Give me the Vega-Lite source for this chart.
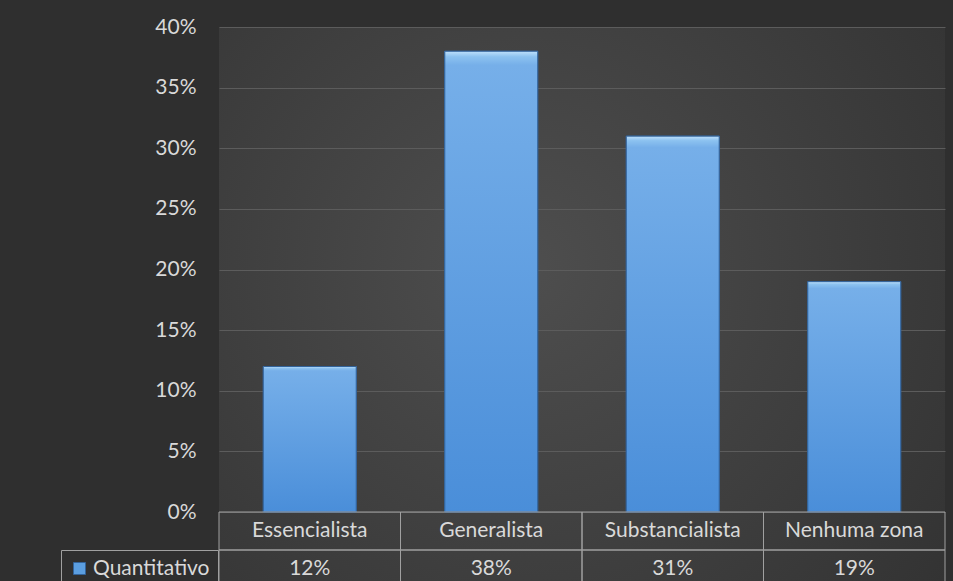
{
  "$schema": "https://vega.github.io/schema/vega-lite/v6.json",
  "width": 726,
  "height": 554,
  "autosize": "none",
  "padding": {"left": 219, "top": 27, "right": 8, "bottom": 0},
  "background": "#2f2f2f",
  "config": {
    "font": "Lato",
    "view": {
      "stroke": null,
      "fill": {
        "gradient": "radial",
        "x1": 0.42, "y1": 0.45, "r1": 0,
        "x2": 0.42, "y2": 0.45, "r2": 0.75,
        "stops": [
          {"offset": 0, "color": "#4e4e4e"},
          {"offset": 1, "color": "#323232"}
        ]
      }
    }
  },
  "data": {
    "values": [
      {"categoria": "Essencialista", "valor": 0.12},
      {"categoria": "Generalista", "valor": 0.38},
      {"categoria": "Substancialista", "valor": 0.31},
      {"categoria": "Nenhuma zona", "valor": 0.19}
    ]
  },
  "encoding": {
    "x": {
      "field": "categoria",
      "type": "nominal",
      "sort": null,
      "scale": {"paddingInner": 0, "paddingOuter": 0},
      "axis": null
    }
  },
  "layer": [
    {
      "layer": [
        {
          "mark": {"type": "bar", "width": {"band": 0.512}, "stroke": "#33639a", "strokeWidth": 1},
          "encoding": {
            "y": {
              "field": "valor",
              "type": "quantitative",
              "scale": {"domain": [0, 0.4], "range": [485, 0], "nice": false},
              "axis": {
                "values": [0, 0.05, 0.1, 0.15, 0.2, 0.25, 0.3, 0.35, 0.4],
                "format": ".0%",
                "grid": true,
                "gridColor": "#5c5c5c",
                "gridWidth": 1,
                "domain": false,
                "ticks": false,
                "labelPadding": 23,
                "labelFontSize": 21,
                "labelColor": "#d9d9d9",
                "labelFont": "Lato",
                "title": null
              }
            },
            "color": {
              "datum": "Quantitativo",
              "type": "nominal",
              "scale": {"range": ["#5b9ee0"]},
              "legend": {
                "orient": "none",
                "legendX": -158,
                "legendY": 523,
                "title": null,
                "symbolType": "square",
                "symbolSize": 144,
                "symbolStrokeColor": "#33639a",
                "symbolStrokeWidth": 1,
                "labelFontSize": 21,
                "labelFont": "Lato",
                "labelColor": "#d9d9d9",
                "labelOffset": 3,
                "strokeColor": "#a0a0a0",
                "padding": 8
              }
            }
          }
        },
        {
          "mark": {
            "type": "bar",
            "width": {"band": 0.512},
            "stroke": "#33639a",
            "strokeWidth": 1,
            "fill": {
              "gradient": "linear",
              "x1": 0, "y1": 0, "x2": 0, "y2": 1,
              "stops": [
                {"offset": 0, "color": "#bfe0fb"},
                {"offset": 0.012, "color": "#8cc2f0"},
                {"offset": 0.03, "color": "#76afe9"},
                {"offset": 1, "color": "#4a8ed9"}
              ]
            }
          },
          "encoding": {"y": {"field": "valor", "type": "quantitative"}}
        }
      ]
    },
    {
      "layer": [
        {
          "mark": {"type": "rect", "fill": "transparent", "stroke": "#a0a0a0", "strokeWidth": 1},
          "encoding": {
            "y": {
              "datum": "name",
              "type": "nominal",
              "scale": {"domain": ["name", "value"], "range": [485, 561], "paddingInner": 0, "paddingOuter": 0},
              "axis": null
            }
          }
        },
        {
          "mark": {"type": "rect", "fill": "transparent", "stroke": "#a0a0a0", "strokeWidth": 1},
          "encoding": {"y": {"datum": "value", "type": "nominal"}}
        },
        {
          "mark": {"type": "text", "fontSize": 21, "color": "#d9d9d9", "font": "Lato", "baseline": "middle", "align": "center"},
          "encoding": {"y": {"datum": "name", "type": "nominal"}, "text": {"field": "categoria"}}
        },
        {
          "mark": {"type": "text", "fontSize": 21, "color": "#d9d9d9", "font": "Lato", "baseline": "middle", "align": "center"},
          "encoding": {"y": {"datum": "value", "type": "nominal"}, "text": {"field": "valor", "format": ".0%"}}
        }
      ]
    }
  ],
  "resolve": {"scale": {"y": "independent"}, "axis": {"y": "independent"}}
}
